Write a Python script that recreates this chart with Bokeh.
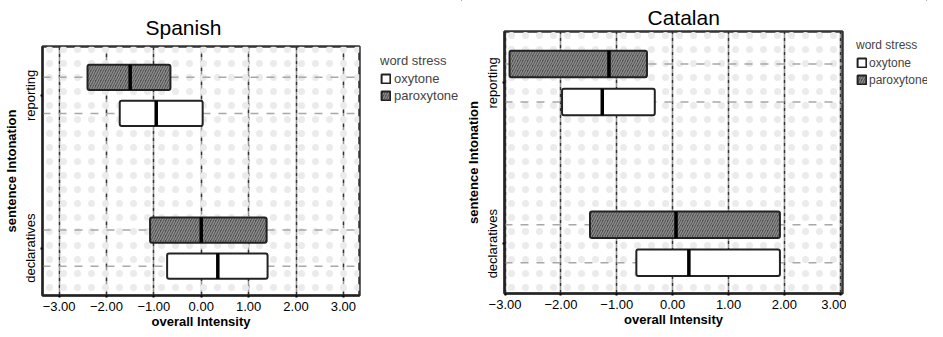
from bokeh.plotting import figure
from bokeh.models import (FixedTicker, Legend, LegendItem, Span, BoxAnnotation,
                          ColumnDataSource, Range1d)
from bokeh.embed import file_html
from bokeh.resources import INLINE

FONT = "Liberation Sans"

categories = ["declaratives", "reporting"]
stress_levels = ["oxytone", "paroxytone"]
x_ticks = [-3, -2, -1, 0, 1, 2, 3]
x_tick_labels = ["\u22123.00", "\u22122.00", "\u22121.00", "0.00", "1.00", "2.00", "3.00"]

box_category = ["reporting", "reporting", "declaratives", "declaratives"]
box_stress = ["paroxytone", "oxytone", "paroxytone", "oxytone"]

# Spanish: lower quartile, median, upper quartile
es_q1 = [-2.40, -1.72, -1.08, -0.72]
es_median = [-1.50, -0.95, 0.00, 0.35]
es_q3 = [-0.65, 0.03, 1.38, 1.40]

# Catalan
ca_q1 = [-2.92, -1.98, -1.48, -0.65]
ca_median = [-1.14, -1.26, 0.06, 0.29]
ca_q3 = [-0.46, -0.32, 1.92, 1.92]

DODGE = 0.118
BOX_H = 0.165

STYLE = {
    "paroxytone": dict(fill_color="#4c4c4c", line_color="#222222", line_width=2,
                       hatch_pattern="/", hatch_color="#8a8a8a", hatch_scale=5,
                       hatch_weight=1.5),
    "oxytone": dict(fill_color="white", line_color="#222222", line_width=2),
}


def make_panel(title, q1, med, q3, x_range, width, height, mb_left, mb_right,
               mb_top, mb_bottom, title_offset, title_standoff):
    p = figure(width=width, height=height, output_backend="svg", toolbar_location=None,
               x_range=Range1d(*x_range), y_range=Range1d(-0.31, 1.32),
               min_border_left=mb_left, min_border_right=mb_right,
               min_border_top=mb_top, min_border_bottom=mb_bottom,
               background_fill_color="white", border_fill_color="white")
    p.title.text = title
    p.title.text_font = FONT
    p.title.text_font_size = "21px"
    p.title.text_font_style = "normal"
    p.title.text_color = "black"
    p.title.align = "left"
    p.title.offset = title_offset
    p.title.standoff = title_standoff

    p.outline_line_color = "#333333"
    p.outline_line_width = 2.5

    # faint dotted background texture
    p.add_layout(BoxAnnotation(fill_alpha=0, line_alpha=0, hatch_pattern=".",
                               hatch_color="#ebebeb", hatch_scale=14, hatch_weight=0.5,
                               level="underlay"))

    p.xaxis.ticker = FixedTicker(ticks=x_ticks)
    p.xaxis.major_label_overrides = {t: l for t, l in zip(x_ticks, x_tick_labels)}
    p.xaxis.axis_label = "overall Intensity"
    p.xgrid.ticker = FixedTicker(ticks=x_ticks)
    p.xgrid.grid_line_color = "#333333"
    p.xgrid.grid_line_width = 1.6
    p.xgrid.grid_line_dash = "4 1 1 1"
    p.ygrid.grid_line_color = None

    yt = list(range(len(categories)))
    p.yaxis.ticker = FixedTicker(ticks=yt)
    p.yaxis.major_label_overrides = {i: c for i, c in enumerate(categories)}
    p.yaxis.major_label_orientation = "vertical"
    p.yaxis.axis_label = "sentence Intonation"

    for ax in (p.xaxis, p.yaxis):
        ax.axis_line_color = "#222222"
        ax.axis_line_width = 2
        ax.major_tick_in = 0
        ax.major_tick_out = 2
        ax.major_tick_line_width = 2
        ax.minor_tick_out = 0
        ax.minor_tick_in = 0
        ax.major_label_text_font = FONT
        ax.major_label_text_font_size = "13px"
        ax.major_label_text_color = "black"
        ax.axis_label_text_font = FONT
        ax.axis_label_text_font_size = "13px"
        ax.axis_label_text_font_style = "bold"
        ax.axis_label_text_color = "black"
    p.xaxis.major_label_standoff = 4
    p.xaxis.axis_label_standoff = 0
    p.yaxis.major_label_standoff = 2
    p.yaxis.axis_label_standoff = 2

    ys = [categories.index(c) + (DODGE if s == "paroxytone" else -DODGE)
          for c, s in zip(box_category, box_stress)]

    for y in ys:
        p.add_layout(Span(location=y, dimension="width", line_color="#a8a8a8",
                          line_width=1.5, line_dash="8 8", level="underlay"))

    for s in stress_levels:
        idx = [i for i, st in enumerate(box_stress) if st == s]
        src = ColumnDataSource(dict(y=[ys[i] for i in idx], q1=[q1[i] for i in idx],
                                    q3=[q3[i] for i in idx]))
        p.hbar(y="y", left="q1", right="q3", height=BOX_H, source=src,
               border_radius=2, **STYLE[s])

    msrc = ColumnDataSource(dict(x=med, y0=[y - BOX_H / 2 for y in ys],
                                 y1=[y + BOX_H / 2 for y in ys]))
    p.segment(x0="x", y0="y0", x1="x", y1="y1", source=msrc, line_color="black",
              line_width=3.5)
    return p


def make_legend(width, loc, font_size, standoff):
    lf = figure(width=width, height=329, output_backend="svg", toolbar_location=None,
                x_axis_location=None, y_axis_location=None, min_border=0,
                outline_line_color=None, background_fill_color="white",
                border_fill_color="white", x_range=Range1d(0, 1), y_range=Range1d(0, 1))
    lf.grid.grid_line_color = None
    items = []
    for s in stress_levels:
        # swatch source lies outside the visible range; only its legend entry shows
        r = lf.hbar(y=[5], left=[5], right=[6], height=0.1, **STYLE[s])
        items.append(LegendItem(label=s, renderers=[r]))
    legend = Legend(items=items, title="word stress", location=loc, padding=0, margin=0,
                    border_line_alpha=0, background_fill_alpha=0,
                    label_text_font=FONT, label_text_font_size=font_size,
                    title_text_font=FONT, title_text_font_size=font_size,
                    title_text_font_style="normal", title_standoff=3,
                    glyph_width=11, glyph_height=11, label_height=15, spacing=2,
                    label_standoff=standoff)
    lf.add_layout(legend, "center")
    return lf


p1 = make_panel("Spanish", es_q1, es_median, es_q3, (-3.35, 3.34), 363, 331,
                33, 4, 46, 30, 103, 15)
l1 = make_legend(99, (17, 226), "13px", 3)
p2 = make_panel("Catalan", ca_q1, ca_median, ca_q3, (-3.01, 3.04), 384, 329,
                38, 4, 30, 30, 143, 6)
l2 = make_legend(81, (10, 242), "12px", 2)

html = file_html([p1, l1, p2, l2], INLINE)
css = ("<style>html,body{overflow:hidden;}"
       "body{display:flex;flex-direction:row;align-items:flex-start;}"
       "body *{flex-shrink:0;}</style>")
html = html.replace("</head>", css + "</head>", 1)
open("out.html", "w").write(html)
